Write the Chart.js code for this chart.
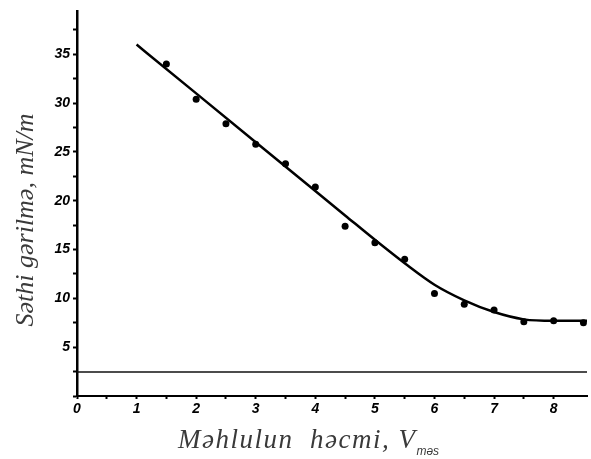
<!DOCTYPE html>
<html lang="az">
<head>
  <meta charset="UTF-8">
  <title>Səthi gərilmə</title>
  <script src="https://cdn.jsdelivr.net/npm/chart.js"></script>
  <style>
    body { margin: 0; background: #fff; }
    #wrap { width: 591px; height: 459px; }
  </style>
</head>
<body>
  <div id="wrap"><canvas id="chart" width="591" height="459"></canvas></div>
  <script>
    // measured points
    const volX = [1.5, 2, 2.5, 3, 3.5, 4, 4.5, 5, 5.5, 6, 6.5, 7, 7.5, 8, 8.5];
    const tensionY = [34.0, 30.4, 27.9, 25.8, 23.8, 21.4, 17.4, 15.7, 14.0, 10.5, 9.4, 8.8, 7.6, 7.7, 7.5];

    // drawn curve through the points
    const fitX = [1, 2, 3, 4, 4.5, 5, 5.5, 6, 6.5, 7, 7.5, 8, 8.56];
    const fitY = [36.0, 31.0, 26.0, 21.0, 18.5, 16.0, 13.6, 11.4, 9.8, 8.6, 7.85, 7.7, 7.7];

    // lower reference line
    const baseX = [0, 8.56];
    const baseY = [2.45, 2.45];

    const xTitle = 'Məhlulun  həcmi, V';
    const xTitleSub = 'məs';
    const yTitle = 'Səthi gərilmə, mN/m';

    function toPoints(xs, ys) {
      return xs.map((x, i) => ({ x: x, y: ys[i] }));
    }

    function keepSteps(step) {
      return function(scale) {
        scale.ticks = scale.ticks.filter(t => Math.abs(t.value / step - Math.round(t.value / step)) < 1e-6);
      };
    }

    // axis titles drawn by hand (x title has a subscript)
    const titlePlugin = {
      id: 'titles',
      afterDraw(chart) {
        const ctx = chart.ctx;
        ctx.save();
        ctx.fillStyle = '#3a3a3a';
        ctx.textBaseline = 'alphabetic';
        ctx.font = 'italic 27px "Liberation Serif"';
        ctx.textAlign = 'left';
        ctx.letterSpacing = '1.5px';
        ctx.fillText(xTitle, 178, 448);
        const w = ctx.measureText(xTitle).width;
        ctx.letterSpacing = '0px';
        ctx.font = 'italic 12px "Liberation Sans"';
        ctx.fillText(xTitleSub, 178 + w, 455);

        ctx.translate(33, 220);
        ctx.rotate(-Math.PI / 2);
        ctx.textAlign = 'center';
        ctx.font = 'italic 26px "Liberation Serif"';
        ctx.fillText(yTitle, 0, 0);
        ctx.restore();
      }
    };

    const tickFont = { family: '"Liberation Sans"', size: 14, style: 'italic', weight: 'bold' };

    new Chart(document.getElementById('chart'), {
      type: 'scatter',
      data: {
        datasets: [
          {
            data: toPoints(fitX, fitY),
            showLine: true,
            borderColor: '#000',
            borderWidth: 2.5,
            pointRadius: 0,
            cubicInterpolationMode: 'monotone'
          },
          {
            data: toPoints(baseX, baseY),
            showLine: true,
            borderColor: '#111',
            borderWidth: 1.5,
            pointRadius: 0
          },
          {
            data: toPoints(volX, tensionY),
            showLine: false,
            pointRadius: 3.5,
            pointBackgroundColor: '#000',
            pointBorderWidth: 0
          }
        ]
      },
      options: {
        responsive: false,
        animation: false,
        layout: { padding: { top: 10, right: 1, left: 0, bottom: 0 } },
        plugins: { legend: { display: false }, tooltip: { enabled: false } },
        scales: {
          x: {
            type: 'linear',
            min: 0,
            max: 8.56,
            afterBuildTicks: keepSteps(0.5),
            afterFit(s) { s.height = 63; },
            border: { color: '#000', width: 2 },
            grid: { drawOnChartArea: false, tickLength: 3, color: '#000', tickWidth: 2 },
            ticks: {
              stepSize: 0.5,
              autoSkip: false,
              maxRotation: 0,
              padding: 2,
              color: '#000',
              font: tickFont,
              callback: v => Number.isInteger(v) ? String(v) : ''
            }
          },
          y: {
            min: 0,
            max: 39.4,
            afterBuildTicks: keepSteps(2.5),
            afterFit(s) { s.width = 77; },
            border: { color: '#000', width: 2.5 },
            grid: { drawOnChartArea: false, tickLength: 4, color: '#000', tickWidth: 2 },
            ticks: {
              stepSize: 2.5,
              autoSkip: false,
              padding: 3,
              color: '#000',
              font: tickFont,
              callback: v => (v > 0 && v % 5 === 0) ? String(v) : ''
            }
          }
        }
      },
      plugins: [titlePlugin]
    });
  </script>
</body>
</html>
